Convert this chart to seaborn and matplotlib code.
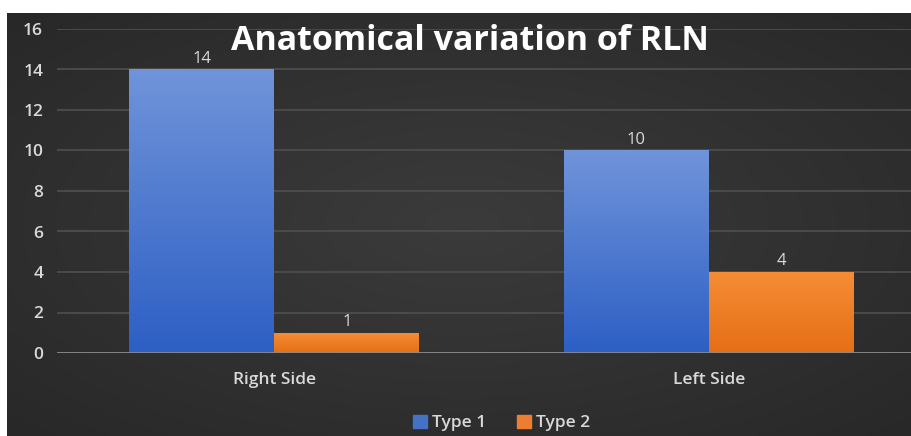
import numpy as np
import pandas as pd
import matplotlib
matplotlib.use('Agg')
import matplotlib.pyplot as plt
import seaborn as sns
from matplotlib.colors import LinearSegmentedColormap
from matplotlib.patches import Rectangle

# Data
sides = ['Right Side', 'Left Side']
type1 = [14, 10]
type2 = [1, 4]
series = ['Type 1', 'Type 2']
yticks = [0, 2, 4, 6, 8, 10, 12, 14, 16]

df = pd.DataFrame({
    'side': sides * 2,
    'count': type1 + type2,
    'type': [series[0]] * len(sides) + [series[1]] * len(sides),
})

sns.set_style('dark')
plt.rcParams['font.family'] = ['Open Sans', 'DejaVu Sans']

fig = plt.figure(figsize=(9.12, 4.36), dpi=100)
fig.patch.set_facecolor('white')

# Dark background panel (white margin at top and left like the reference)
bg = fig.add_axes([7 / 912, 0, 1, (436 - 13) / 436])
yy, xx = np.mgrid[-1:1:200j, -1:1:400j]
shade = 1 - 0.5 * np.sqrt(xx ** 2 + yy ** 2)
bg_cmap = LinearSegmentedColormap.from_list('bg', ['#282828', '#3b3b3b'])
bg.imshow(shade, cmap=bg_cmap, aspect='auto', extent=[0, 1, 0, 1])
bg.set_axis_off()

ax = fig.add_axes([57 / 912, (436 - 353) / 436, 1 - 57 / 912, (353 - 29) / 436])
ax.patch.set_alpha(0)

palette = {'Type 1': '#4472c4', 'Type 2': '#ed7d31'}
sns.barplot(data=df, x='side', y='count', hue='type', palette=palette,
            width=0.667, gap=0, ax=ax, legend=False, saturation=1)

# gradient fill on bars
grads = {
    'Type 1': LinearSegmentedColormap.from_list('b', ['#2d5fc4', '#7094da']),
    'Type 2': LinearSegmentedColormap.from_list('o', ['#e56f16', '#f58d35']),
}
for container, name in zip(ax.containers, series):
    for bar in container:
        x0, y0 = bar.get_x(), bar.get_y()
        w, h = bar.get_width(), bar.get_height()
        img = ax.imshow(np.linspace(0, 1, 100).reshape(-1, 1), cmap=grads[name],
                        origin='lower', aspect='auto',
                        extent=[x0, x0 + w, y0, y0 + h], zorder=2)
        img.set_clip_path(bar)
        bar.set_alpha(0)
    ax.bar_label(container, padding=2, color='#d9d9d9', fontsize=12)

ax.set_xlim(-0.5, 1.467)
ax.set_ylim(0, 16)
ax.set_yticks(yticks)
ax.grid(axis='y', color='#4d4d4d', linewidth=1.3)
ax.grid(axis='x', visible=False)
ax.axhline(0, color='#8a8a8a', linewidth=2, zorder=3)
for s in ax.spines.values():
    s.set_visible(False)
ax.tick_params(axis='both', length=0, colors='#d9d9d9', labelsize=12.5)
ax.tick_params(axis='y', pad=10)
ax.tick_params(axis='x', pad=14)
for lab in ax.get_yticklabels() + ax.get_xticklabels():
    lab.set_fontweight('semibold')
ax.set_xlabel('')
ax.set_ylabel('')

fig.text(0.515, 0.905, 'Anatomical variation of RLN', ha='center', va='center',
         color='white', fontsize=24.5, fontweight='bold')

handles = [Rectangle((0, 0), 1, 1, color=palette[s]) for s in series]
fig.legend(handles, series, loc='center', bbox_to_anchor=(0.55, 0.03), ncol=2,
           frameon=False, labelcolor='#d9d9d9', fontsize=12.5,
           prop={'weight': 'semibold', 'size': 12.5},
           handlelength=0.8, handleheight=0.8, handletextpad=0.3, columnspacing=1.8)

fig.savefig('out.png', dpi=100, facecolor=fig.get_facecolor())
